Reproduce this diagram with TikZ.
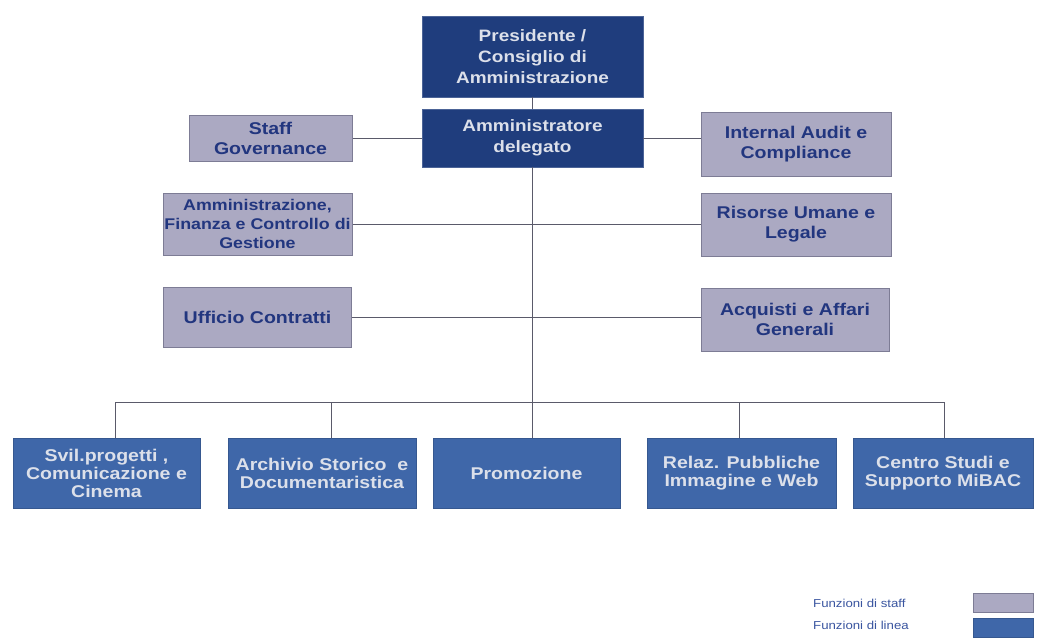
\documentclass[tikz,border=0pt]{standalone}
\usepackage{fontspec}
\setmainfont{Liberation Sans}
\newfontfamily\wfont[FakeStretch=1.15]{Liberation Sans}
\definecolor{darkbox}{HTML}{1F3D7D}
\definecolor{linebox}{HTML}{3F67A9}
\definecolor{staffbox}{HTML}{ABA9C2}
\definecolor{staffedge}{HTML}{7D7C95}
\definecolor{stafftext}{HTML}{22367F}
\definecolor{lighttext}{HTML}{DCE0EA}
\definecolor{conn}{HTML}{5A5A6A}
\definecolor{legtext}{HTML}{3A55A0}
\begin{document}
\begin{tikzpicture}[x=1pt,y=-1pt,
  box/.style={rectangle, inner sep=0pt, align=center},
  topbox/.style={box, fill=darkbox, draw=darkbox!80!white, line width=0.8pt, text=lighttext,
     font=\wfont\bfseries\fontsize{16.5}{21}\selectfont},
  staffb/.style={box, fill=staffbox, draw=staffedge, line width=1pt, text=stafftext,
     font=\wfont\bfseries\fontsize{17}{20}\selectfont},
  lineb/.style={box, fill=linebox, draw=linebox!85!black, line width=0.8pt, text=lighttext,
     font=\wfont\bfseries\fontsize{17}{18}\selectfont},
  con/.style={draw=conn, line width=0.8pt},
  legend/.style={anchor=west, inner sep=0pt, text=legtext, font=\wfont\fontsize{11.5}{13}\selectfont}
]
\useasboundingbox[fill=white] (0,0) rectangle (1037,641);

% top
\node[topbox, minimum width=221, minimum height=81] (pres) at (532.5,56.5) {Presidente /\\Consiglio di\\Amministrazione};
\node[topbox, minimum width=221, minimum height=58] (ad) at (532.5,138) {Amministratore\\delegato};

% staff left
\node[staffb, minimum width=163, minimum height=46] (sg) at (270.5,138) {Staff\\Governance};
\node[staffb, minimum width=189, minimum height=62, font=\wfont\bfseries\fontsize{15.5}{19}\selectfont] (afc) at (257.5,224) {Amministrazione,\\Finanza e Controllo di\\Gestione};
\node[staffb, minimum width=188, minimum height=60] (uc) at (257.5,317) {Ufficio Contratti};

% staff right
\node[staffb, minimum width=190, minimum height=64] (ia) at (796,144) {Internal Audit e\\Compliance};
\node[staffb, minimum width=190, minimum height=63] (rul) at (796,224.5) {Risorse Umane e\\Legale};
\node[staffb, minimum width=188, minimum height=63] (aag) at (795,319.5) {Acquisti e Affari\\Generali};

% line boxes
\node[lineb, minimum width=187, minimum height=70] (svil) at (106.5,473) {Svil.progetti ,\\Comunicazione e\\Cinema};
\node[lineb, minimum width=188, minimum height=70] (arch) at (322,473) {Archivio Storico\ \ e\\Documentaristica};
\node[lineb, minimum width=187, minimum height=70] (prom) at (526.5,473) {Promozione};
\node[lineb, minimum width=189, minimum height=70] (rel) at (741.5,473) {Relaz. Pubbliche\\Immagine e Web};
\node[lineb, minimum width=180, minimum height=70] (cs) at (943,473) {Centro Studi e\\Supporto MiBAC};

% connectors
\coordinate (trunk) at (532,402);
\coordinate (j1) at (115,402);
\coordinate (j2) at (331,402);
\coordinate (j4) at (739,402);
\coordinate (j5) at (944,402);

\draw[con] (pres.south) -- (ad.north);
\draw[con] (ad.west) -- (sg.east);
\draw[con] (ad.east) -- (ad.east -| ia.west);
\draw[con] (afc.east) -- (afc.east -| rul.west);
\draw[con] (uc.east) -- (uc.east -| aag.west);
\draw[con] (ad.south -| trunk) -- (trunk |- prom.north);
\draw[con] (j1 |- svil.north) -- (j1) -- (j5) -- (j5 |- cs.north);
\draw[con] (j2) -- (j2 |- arch.north);
\draw[con] (j4) -- (j4 |- rel.north);

% legend
\node[legend] (lstaff) at (813,603) {Funzioni di staff};
\node[legend] (lline) at (813,625) {Funzioni di linea};
\node[box, fill=staffbox, draw=staffedge, line width=0.6pt, minimum width=60, minimum height=19] (sstaff) at (1003,602.5) {};
\node[box, fill=linebox, draw=linebox!85!black, line width=0.6pt, minimum width=60, minimum height=19] (sline) at (1003,627.5) {};
\end{tikzpicture}
\end{document}
